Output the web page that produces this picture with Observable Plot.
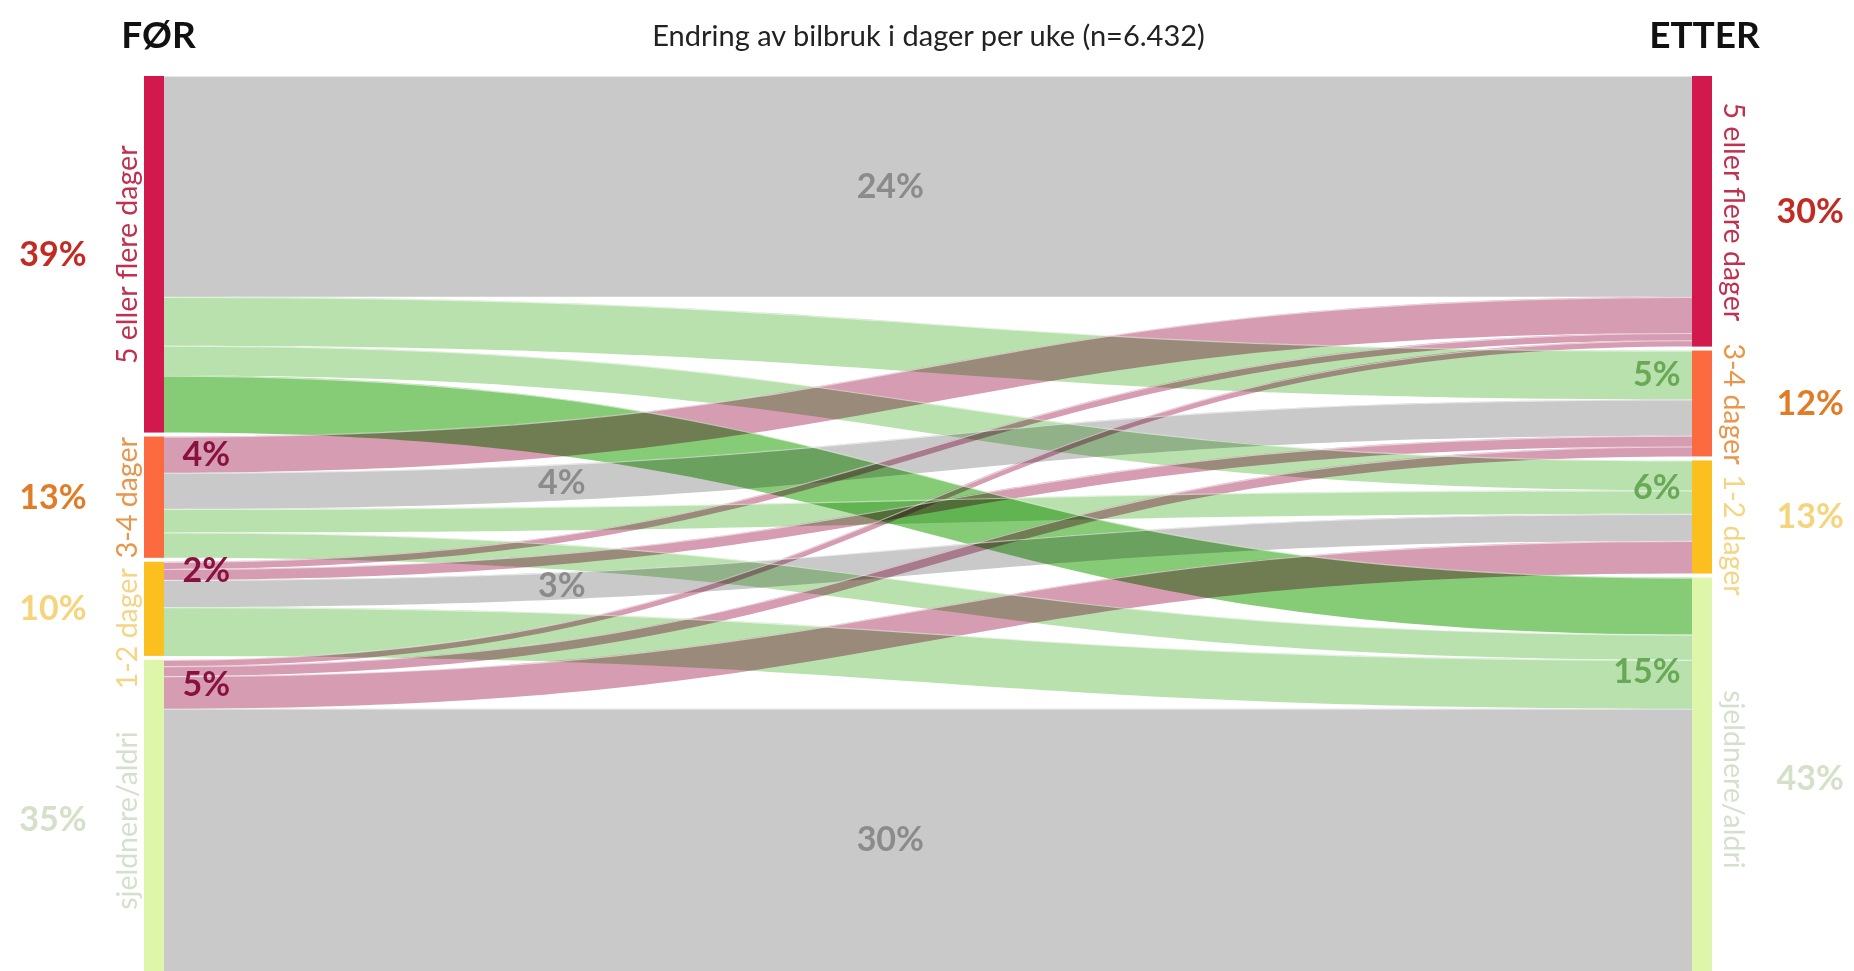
<!DOCTYPE html>
<html>
<head>
<meta charset="utf-8">
<script src="https://cdn.jsdelivr.net/npm/d3@7"></script>
<script src="https://cdn.jsdelivr.net/npm/@observablehq/plot@0.6"></script>
<style>
  html, body { margin: 0; padding: 0; background: #fff; overflow: hidden; }
  #chart svg { display: block; }
</style>
</head>
<body>
<div id="chart"></div>
<script>
// Weekly car-use categories, from most to least frequent
const categories = ["5 eller flere dager", "3-4 dager", "1-2 dager", "sjeldnere/aldri"];
const stages = ["FØR", "ETTER"];
const title = "Endring av bilbruk i dager per uke (n=6.432)";

// Share of respondents (%) going from one category before to each category after
// (order of targets follows `categories`)
const from5plus = [24.4, 5.4, 3.3, 6.3];
const from3to4 = [4.0, 4.0, 2.6, 2.8];
const from1to2 = [0.8, 1.2, 3.0, 5.4];
const fromRarely = [0.7, 1.1, 3.6, 30.0];

// Printed category totals
const beforeTotals = ["39%", "13%", "10%", "35%"];
const afterTotals = ["30%", "12%", "13%", "43%"];

// Printed ribbon labels: the flows each one sums up, and where it sits
const ribbonLabels = [
  {text: "24%", flows: [[0, 0]], place: "middle"},
  {text: "4%", flows: [[1, 1]], place: "inner"},
  {text: "3%", flows: [[2, 2]], place: "inner"},
  {text: "30%", flows: [[3, 3]], place: "middle"},
  {text: "4%", flows: [[1, 0]], place: "source"},
  {text: "2%", flows: [[2, 0], [2, 1]], place: "source"},
  {text: "5%", flows: [[3, 0], [3, 1], [3, 2]], place: "source"},
  {text: "5%", flows: [[0, 1]], place: "target"},
  {text: "6%", flows: [[0, 2], [1, 2]], place: "target"},
  {text: "15%", flows: [[1, 3], [2, 3]], place: "target"}
];

// ---- palette ----
const nodeColors = ["#d1194d", "#fc6a40", "#fbc01f", "#def6aa"];
const nameColors = ["#c1304f", "#e9964c", "#f4d583", "#d5e0cc"];
const totalColors = ["#c22a22", "#e27b26", "#f5d47c", "#d4e0c8"];
const ribbonColor = {stay: "#c9c9c9", up: "#d59cb2", down: "#b8e1ae", drop: "#86cc77"};
const labelColor = {stay: "#8b8b8b", up: "#8a1040", down: "#69a955"};

// ---- layout in percentage units ----
const width = 1854, height = 971, marginTop = 76;
const yMax = 98.9;                                  // visible extent of the stacks
const pxPerUnit = (height - marginTop) / yMax;
const matrix = [from5plus, from3to4, from1to2, fromRarely];
const gap = 0.44;                                   // white space between stacked categories
const n = categories.length;
const font = "Lato, 'Open Sans', sans-serif";
const nameSize = 28.5;

function kind(i, j) {
  if (i === j) return "stay";
  if (i > j) return "up";
  return (i === 0 && j === n - 1) ? "drop" : "down";
}

const nodes = [];
let yb = 0, ya = 0;
for (let i = 0; i < n; ++i) {
  const tb = d3.sum(matrix[i]);
  nodes.push({stage: 0, cat: i, y0: yb, y1: yb + tb, label: beforeTotals[i]});
  yb += tb + gap;
}
for (let j = 0; j < n; ++j) {
  const ta = d3.sum(matrix, row => row[j]);
  nodes.push({stage: 1, cat: j, y0: ya, y1: ya + ta, label: afterTotals[j]});
  ya += ta + gap;
}

// Category names run along the bars; push a name down when it would touch the one above
const measure = document.createElement("canvas").getContext("2d");
measure.font = `${nameSize}px ${font}`;
for (const stage of [0, 1]) {
  let prevEnd = -Infinity;
  for (const d of nodes.filter(d => d.stage === stage)) {
    const half = measure.measureText(categories[d.cat]).width / 2 / pxPerUnit;
    let c = (d.y0 + d.y1) / 2;
    const pad = 10 / pxPerUnit;
    if (c - half < prevEnd + pad) c = prevEnd + pad + half;
    d.nameY = c;
    prevEnd = c + half;
  }
}

// Ribbons: stacked by target inside each source, by source inside each target
const flows = [];
const srcCursor = nodes.filter(d => d.stage === 0).map(d => d.y0);
for (let i = 0; i < n; ++i) for (let j = 0; j < n; ++j) {
  const v = matrix[i][j];
  flows.push({i, j, value: v, sy0: srcCursor[i], sy1: srcCursor[i] + v, kind: kind(i, j)});
  srcCursor[i] += v;
}
const tgtCursor = nodes.filter(d => d.stage === 1).map(d => d.y0);
for (let j = 0; j < n; ++j) for (let i = 0; i < n; ++i) {
  const f = flows.find(d => d.i === i && d.j === j);
  f.ty0 = tgtCursor[j];
  f.ty1 = tgtCursor[j] + f.value;
  tgtCursor[j] += f.value;
}

const ribbonPoints = flows.flatMap((f, k) => [
  {id: k, x: 0, y1: f.sy0, y2: f.sy1, fill: ribbonColor[f.kind]},
  {id: k, x: 1, y1: f.ty0, y2: f.ty1, fill: ribbonColor[f.kind]}
]);

// Position along a bump-x ribbon at horizontal fraction t
function bumpY(y0, y1, t) {
  let lo = 0, hi = 1;
  for (let k = 0; k < 40; ++k) {
    const s = (lo + hi) / 2;
    const x = 1.5 * s * (1 - s) + s * s * s;
    if (x < t) lo = s; else hi = s;
  }
  const s = (lo + hi) / 2;
  return y0 + (y1 - y0) * (3 * s * s - 2 * s * s * s);
}

const placeT = {middle: 0.475, inner: 0.26};
const labelRows = ribbonLabels.map(L => {
  const fs = L.flows.map(([i, j]) => flows.find(d => d.i === i && d.j === j));
  const k = fs[0].kind;
  if (L.place === "source") {
    const y = (d3.min(fs, d => d.sy0) + d3.max(fs, d => d.sy1)) / 2;
    return {...L, x: 0, y, kind: k};
  }
  if (L.place === "target") {
    const y = (d3.min(fs, d => d.ty0) + d3.max(fs, d => d.ty1)) / 2;
    return {...L, x: 1, y, kind: k};
  }
  const t = placeT[L.place];
  const f = fs[0];
  // keep the label inside the visible part of the ribbon
  const top = (bumpY(f.sy0, f.ty0, t));
  const bottom = Math.min(yMax, bumpY(f.sy1, f.ty1, t));
  return {...L, x: t, y: (top + bottom) / 2, kind: k};
});

const before = nodes.filter(d => d.stage === 0);
const after = nodes.filter(d => d.stage === 1);
const mid = d => (d.y0 + d.y1) / 2;

const chart = Plot.plot({
  width,
  height,
  marginTop,
  marginBottom: 0,
  marginLeft: 164,
  marginRight: 162,
  x: {domain: [0, 1], axis: null},
  y: {domain: [0, yMax], reverse: true, axis: null},
  color: {type: "identity"},
  style: {fontFamily: font, background: "#fff"},
  marks: [
    // ribbons
    Plot.area(ribbonPoints, {
      x1: "x", y1: "y1", y2: "y2", z: "id", fill: "fill",
      curve: "bump-x", mixBlendMode: "multiply"
    }),
    // thin light seams along the ribbon edges
    Plot.line(ribbonPoints, {
      x: "x", y: "y1", z: "id", curve: "bump-x",
      stroke: "white", strokeOpacity: 0.55, strokeWidth: 1.2
    }),
    // category bars
    Plot.rect(before, {x1: "stage", x2: "stage", y1: "y0", y2: "y1", fill: d => nodeColors[d.cat], insetLeft: -20}),
    Plot.rect(after, {x1: "stage", x2: "stage", y1: "y0", y2: "y1", fill: d => nodeColors[d.cat], insetRight: -20}),
    // category names along the bars
    Plot.text(before, {
      x: "stage", y: "nameY", text: d => categories[d.cat], rotate: -90,
      dx: -37, fill: d => nameColors[d.cat], fontSize: nameSize, lineAnchor: "middle"
    }),
    Plot.text(after, {
      x: "stage", y: "nameY", text: d => categories[d.cat], rotate: 90,
      dx: 41, fill: d => nameColors[d.cat], fontSize: nameSize, lineAnchor: "middle"
    }),
    // category totals
    Plot.text(before, {
      x: "stage", y: mid, text: "label", textAnchor: "end", dx: -78,
      fill: d => totalColors[d.cat], fontSize: 34, fontWeight: "bold"
    }),
    Plot.text(after, {
      x: "stage", y: mid, text: "label", textAnchor: "start", dx: 84,
      fill: d => totalColors[d.cat], fontSize: 34, fontWeight: "bold"
    }),
    // ribbon labels
    Plot.text(labelRows.filter(d => d.place === "source"), {
      x: "x", y: "y", text: "text", textAnchor: "start", dx: 18,
      fill: d => labelColor[d.kind], fontSize: 34, fontWeight: "bold"
    }),
    Plot.text(labelRows.filter(d => d.place === "target"), {
      x: "x", y: "y", text: "text", textAnchor: "end", dx: -12,
      fill: d => labelColor[d.kind], fontSize: 34, fontWeight: "bold"
    }),
    Plot.text(labelRows.filter(d => d.place === "middle" || d.place === "inner"), {
      x: "x", y: "y", text: "text",
      fill: d => labelColor[d.kind], fontSize: 34, fontWeight: "bold"
    }),
    // stage headings and title
    Plot.text([stages[0]], {
      x: () => 0, text: d => d, frameAnchor: "top", lineAnchor: "bottom",
      dx: -6, dy: -29, fontSize: 37, fontWeight: "bold", fill: "#111"
    }),
    Plot.text([stages[1]], {
      x: () => 1, text: d => d, frameAnchor: "top", lineAnchor: "bottom",
      dx: 12, dy: -29, fontSize: 37, fontWeight: "bold", fill: "#111"
    }),
    Plot.text([title], {
      x: () => 0.5, text: d => d, frameAnchor: "top", lineAnchor: "bottom",
      dy: -31, fontSize: 29, fill: "#222"
    })
  ]
});

document.getElementById("chart").appendChild(chart);
</script>
</body>
</html>
